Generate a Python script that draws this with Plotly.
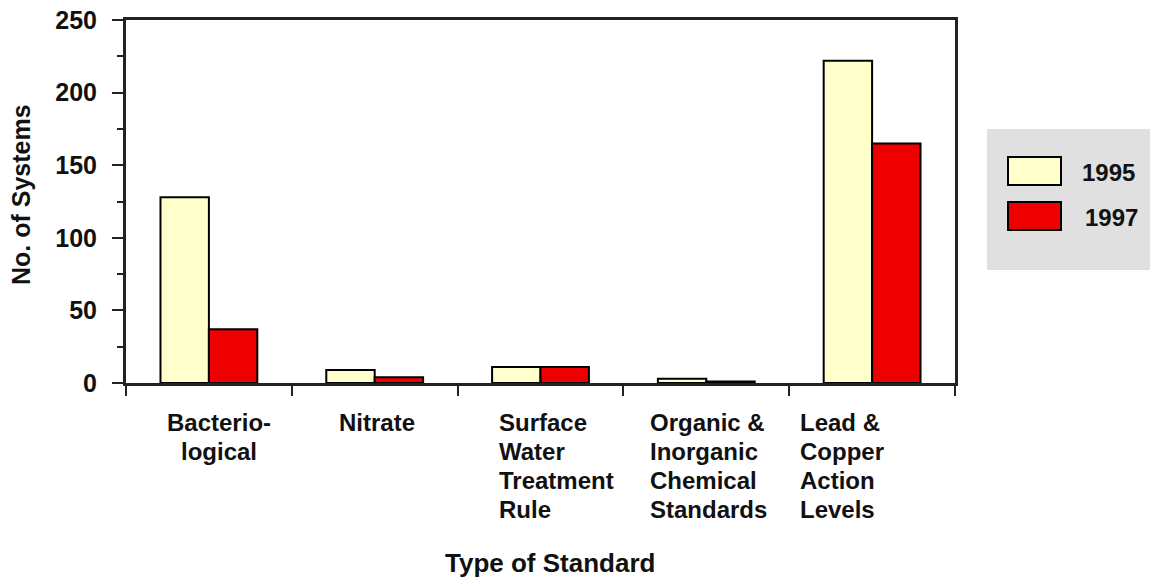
import plotly.graph_objects as go

# ---- data ----
categories = ["Bacteriological", "Nitrate", "Surface Water Treatment Rule",
              "Organic & Inorganic Chemical Standards", "Lead & Copper Action Levels"]
tick_labels = ["Bacterio-<br>logical", "Nitrate", "Surface<br>Water<br>Treatment<br>Rule",
               "Organic &<br>Inorganic<br>Chemical<br>Standards", "Lead &<br>Copper<br>Action<br>Levels"]
series_names = ["1995", "1997"]
vals_1995 = [128, 9, 11, 3, 222]
vals_1997 = [37, 4, 11, 1, 165]
y_ticks = [0, 50, 100, 150, 200, 250]

# ---- style ----
colors = ["#FFFFCC", "#EE0000"]
OFF = 8  # page body margin
W, H = 1158 - 2 * OFF, 586 - 2 * OFF
# plot area in screen pixels
SL, SR, ST, SB = 126, 955, 20, 383
L, R, T, B = SL - OFF, SR - OFF, ST - OFF, SB - OFF
FONT = "Liberation Sans"
AXC = "#222222"


def px_x(sx):
    return (sx - SL) / (SR - SL)


def px_y(sy):
    return (SB - sy) / (SB - ST)


fig = go.Figure()
for name, vals, col in zip(series_names, [vals_1995, vals_1997], colors):
    fig.add_bar(x=categories, y=vals, name=name,
                marker=dict(color=col, line=dict(color="black", width=2)),
                showlegend=False)

fig.update_layout(
    width=W, height=H,
    margin=dict(l=L, r=W - R, t=T, b=H - B, pad=0, autoexpand=False),
    paper_bgcolor="white", plot_bgcolor="white",
    barmode="group", bargap=0.416, bargroupgap=0,
    font=dict(family=FONT, size=25, color="#111111", weight="bold"),
)
fig.update_xaxes(
    type="category", showticklabels=False, tickson="boundaries", automargin=False,
    ticks="outside", ticklen=10, tickwidth=2, tickcolor=AXC,
    showline=True, linecolor=AXC, linewidth=3, mirror=True,
    showgrid=False, zeroline=False,
)
fig.update_yaxes(
    range=[0, 250], tickvals=y_ticks, ticks="outside", ticklen=11, tickwidth=2,
    tickcolor=AXC, ticklabelstandoff=10, automargin=False, ticklabeloverflow="allow",
    minor=dict(dtick=25, ticks="outside", ticklen=6, tickwidth=2, tickcolor=AXC, showgrid=False),
    showline=True, linecolor=AXC, linewidth=3, mirror=True,
    showgrid=False, zeroline=False,
    tickfont=dict(family=FONT, size=25, weight="bold", color="#111111"),
)

# category labels, one annotation per line (screen-pixel offsets from category centre)
label_anchor = ["center", "left", "left", "left", "left"]
label_shift = [10, -38, -44, -58, -74]
first_line_y, line_step = 422, 29.3
for cat, lab, anc, sh in zip(categories, tick_labels, label_anchor, label_shift):
    for i, line in enumerate(lab.split("<br>")):
        yc = first_line_y + i * line_step
        fig.add_annotation(x=cat, xref="x", y=px_y(yc), yref="paper",
                           yanchor="middle", xanchor=anc, text=line, showarrow=False,
                           xshift=sh, font=dict(family=FONT, size=24, weight="bold"))

# axis titles
fig.add_annotation(x=px_x(550), xref="paper", y=px_y(563), yref="paper",
                   text="Type of Standard", showarrow=False,
                   font=dict(family=FONT, size=26, weight="bold"),
                   xanchor="center", yanchor="middle")
fig.add_annotation(x=px_x(21), xref="paper", y=px_y(195), yref="paper",
                   text="No. of Systems", showarrow=False, textangle=-90,
                   font=dict(family=FONT, size=25, weight="bold"),
                   xanchor="center", yanchor="middle")

# legend box
fig.add_shape(type="rect", xref="paper", yref="paper",
              x0=px_x(987), x1=px_x(1170), y0=px_y(270), y1=px_y(129),
              fillcolor="#E0E0E0", line=dict(width=0), layer="below")
sw_tops = [157, 202]
txt_x = [1080, 1083]
for name, col, top, tx in zip(series_names, colors, sw_tops, txt_x):
    fig.add_shape(type="rect", xref="paper", yref="paper",
                  x0=px_x(1008), x1=px_x(1061), y0=px_y(top + 28), y1=px_y(top),
                  fillcolor=col, line=dict(color="black", width=2))
    fig.add_annotation(x=px_x(tx), xref="paper", y=px_y(top + 15), yref="paper",
                       text=name, showarrow=False, xanchor="left", yanchor="middle",
                       font=dict(family=FONT, size=24, weight="bold"))

fig.write_html("out.html")
